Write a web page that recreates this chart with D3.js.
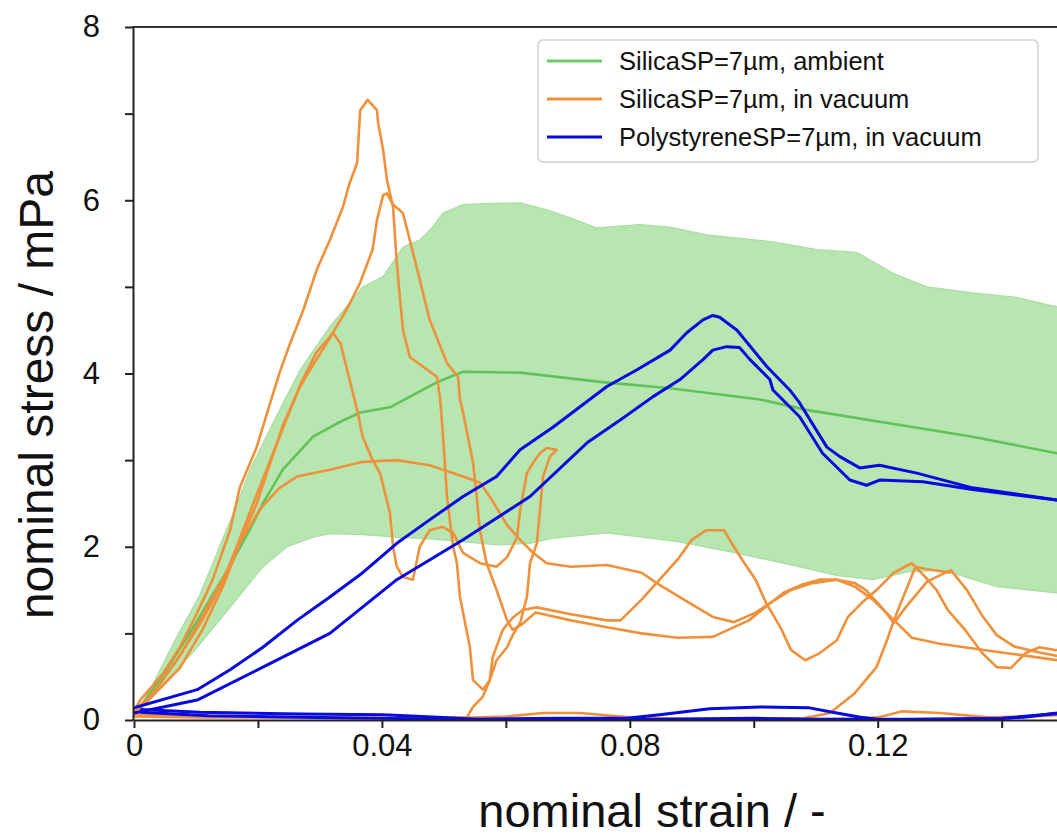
<!DOCTYPE html>
<html><head><meta charset="utf-8">
<script src="https://cdn.jsdelivr.net/npm/d3@7"></script>
<style>
body{margin:0;background:#fff}
svg{display:block}
text{font-family:"Liberation Sans",Arial,Helvetica,sans-serif;fill:#111}
</style></head>
<body><svg id="chart" width="1057" height="840"></svg>
<script>
// ---------- data (strain, stress in mPa) ----------
const strainTicks = [0,0.02,0.04,0.06,0.08,0.10,0.12,0.14,0.16];
const strainLabels = ["0","","0.04","","0.08","","0.12","",""];
const stressTicks = [0,1,2,3,4,5,6,7,8];
const stressLabels = ["0","","2","","4","","6","","8"];
const legendNames = ["SilicaSP=7µm, ambient","SilicaSP=7µm, in vacuum","PolystyreneSP=7µm, in vacuum"];

const greenUpper = [[0,0.05],[0.0026,0.35],[0.0066,0.92],[0.0106,1.44],[0.0171,2.58],[0.0187,2.89],[0.0235,3.58],[0.0268,4.04],[0.0316,4.54],[0.0369,5.0],[0.0402,5.12],[0.0434,5.46],[0.0461,5.54],[0.0482,5.69],[0.0498,5.85],[0.0531,5.95],[0.0569,5.96],[0.0623,5.97],[0.0666,5.89],[0.0703,5.8],[0.0747,5.68],[0.0816,5.72],[0.0865,5.69],[0.0924,5.6],[0.1031,5.52],[0.1102,5.43],[0.1166,5.4],[0.1224,5.16],[0.1279,5.0],[0.1353,4.93],[0.1424,4.88],[0.1489,4.77],[0.158,4.68],[0.168,4.58]];
const greenLower = [[0,0.05],[0.0026,0.23],[0.0102,0.84],[0.0155,1.3],[0.0208,1.77],[0.0247,2.0],[0.0289,2.11],[0.0316,2.15],[0.0369,2.14],[0.0424,2.11],[0.0477,2.09],[0.0531,2.06],[0.0585,2.02],[0.0639,2.04],[0.0676,2.1],[0.0763,2.16],[0.0819,2.11],[0.0877,2.06],[0.0963,1.94],[0.1048,1.81],[0.1134,1.67],[0.1192,1.62],[0.1248,1.71],[0.1306,1.73],[0.1392,1.54],[0.1484,1.47],[0.158,1.42],[0.168,1.38]];
const greenMean = [[0,0.05],[0.005,0.55],[0.01,1.12],[0.015,1.72],[0.0187,2.2],[0.0208,2.5],[0.024,2.89],[0.0289,3.27],[0.0332,3.44],[0.0365,3.55],[0.0413,3.61],[0.045,3.75],[0.0489,3.9],[0.0531,4.02],[0.0623,4.01],[0.0756,3.9],[0.0865,3.83],[0.101,3.7],[0.1085,3.58],[0.1353,3.27],[0.1489,3.08],[0.168,2.85]];

const orangeA = [[0,0.1],[0.001,0.23],[0.0047,0.54],[0.0074,0.84],[0.0102,1.24],[0.0127,1.62],[0.0155,2.19],[0.0171,2.69],[0.0198,3.15],[0.0215,3.55],[0.0235,4.01],[0.0252,4.35],[0.0273,4.73],[0.0295,5.2],[0.0316,5.54],[0.0337,5.92],[0.0348,6.2],[0.036,6.43],[0.0363,6.8],[0.0365,7.04],[0.0377,7.16],[0.0392,7.04],[0.0394,6.89],[0.0402,6.58],[0.0408,6.24],[0.0418,5.92],[0.0424,5.28],[0.0429,4.88],[0.0434,4.5],[0.0445,4.19],[0.0489,3.96],[0.0494,3.7],[0.0498,3.35],[0.0505,2.58],[0.0515,2.0],[0.0521,1.81],[0.0526,1.42],[0.0542,0.84],[0.0547,0.46],[0.0563,0.35],[0.0574,0.46],[0.0579,0.73],[0.0595,1.04],[0.0611,1.18],[0.0627,1.27],[0.065,1.3],[0.0705,1.22],[0.0763,1.15],[0.0785,1.15],[0.0819,1.39],[0.0848,1.62],[0.0877,1.85],[0.09,2.08],[0.0923,2.19],[0.0952,2.19],[0.0968,2.0],[0.0985,1.81],[0.1003,1.62],[0.102,1.35],[0.1043,1.07],[0.106,0.81],[0.1083,0.69],[0.1106,0.77],[0.1134,0.92],[0.1152,1.19],[0.1174,1.35],[0.1198,1.5],[0.1226,1.7],[0.1255,1.81],[0.1277,1.65],[0.1295,1.5],[0.1313,1.27],[0.1341,1.04],[0.1369,0.77],[0.1392,0.61],[0.1415,0.6],[0.1438,0.77],[0.1461,0.84],[0.1484,0.81],[0.158,0.78],[0.168,0.7]];
const orangeB = [[0,0.08],[0.0026,0.25],[0.0074,0.6],[0.0111,1.05],[0.0144,1.55],[0.0171,2.05],[0.0198,2.5],[0.0219,2.95],[0.024,3.4],[0.0268,3.85],[0.0289,4.1],[0.0311,4.35],[0.0344,4.75],[0.0365,5.05],[0.0385,5.43],[0.0392,5.77],[0.0402,6.06],[0.0408,6.08],[0.0418,5.95],[0.0434,5.85],[0.0456,5.23],[0.0477,4.62],[0.0505,4.12],[0.0523,3.96],[0.0526,3.7],[0.0531,3.55],[0.0547,2.97],[0.0553,2.58],[0.0558,2.19],[0.0569,1.81],[0.0585,1.5],[0.0602,1.15],[0.0611,1.04],[0.0625,1.1],[0.0648,1.24],[0.0705,1.15],[0.0763,1.07],[0.0819,1.0],[0.0877,0.95],[0.0934,0.96],[0.0992,1.15],[0.1048,1.47],[0.1077,1.56],[0.1106,1.62],[0.1134,1.62],[0.1163,1.54],[0.1192,1.39],[0.1221,1.19],[0.1255,0.95],[0.13,0.88],[0.138,0.8],[0.149,0.69],[0.168,0.6]];
const orangeC = [[0,0.1],[0.003,0.3],[0.007,0.7],[0.011,1.15],[0.0144,1.6],[0.0171,2.1],[0.0198,2.6],[0.022,3.0],[0.0245,3.45],[0.027,3.9],[0.0295,4.25],[0.0316,4.42],[0.0321,4.47],[0.0333,4.35],[0.0344,4.04],[0.036,3.58],[0.0369,3.27],[0.0385,3.0],[0.0397,2.85],[0.0413,2.39],[0.0418,2.0],[0.0424,1.77],[0.0434,1.65],[0.045,1.62],[0.0461,2.0],[0.0477,2.19],[0.0498,2.23],[0.0515,2.16],[0.0531,1.93],[0.0558,1.81],[0.0585,1.77],[0.0602,1.88],[0.0618,2.11],[0.0623,2.42],[0.0634,2.85],[0.0644,2.97],[0.0655,3.08],[0.0666,3.14],[0.0682,3.12],[0.0671,3.04],[0.066,2.81],[0.0655,2.42],[0.065,2.04],[0.0639,1.81],[0.0634,1.42],[0.0623,1.12],[0.0611,0.98],[0.0602,0.84],[0.0585,0.69],[0.0574,0.46],[0.0563,0.27],[0.0547,0.15],[0.0537,0.03],[0.045,0.02],[0.03,0.03],[0.015,0.04],[0,0.06]];
const orangeD = [[0,0.06],[0.0035,0.35],[0.0075,0.75],[0.011,1.2],[0.0145,1.65],[0.0175,2.1],[0.0205,2.45],[0.0235,2.68],[0.0263,2.81],[0.0316,2.89],[0.0369,2.98],[0.0424,3.0],[0.0477,2.94],[0.0531,2.81],[0.0558,2.74],[0.0574,2.58],[0.0602,2.25],[0.0623,2.08],[0.0644,1.93],[0.0666,1.81],[0.0705,1.77],[0.0763,1.79],[0.0819,1.7],[0.0848,1.56],[0.0894,1.36],[0.0934,1.19],[0.0968,1.13],[0.1003,1.24],[0.1026,1.35],[0.106,1.5],[0.1095,1.58],[0.1134,1.62],[0.1163,1.58],[0.1181,1.5],[0.121,1.27],[0.1226,1.12],[0.1245,1.3],[0.128,1.6],[0.1318,1.73],[0.1344,1.5],[0.1369,1.2],[0.1392,0.98],[0.142,0.85],[0.1461,0.78],[0.149,0.74],[0.168,0.65]];
const orangeE = [[0.1,0.01],[0.108,0.02],[0.1123,0.08],[0.1163,0.31],[0.1198,0.61],[0.1215,0.92],[0.1226,1.15],[0.1248,1.54],[0.1261,1.77],[0.128,1.74],[0.1318,1.7]];
const orangeF = [[0,0.04],[0.01,0.03],[0.02,0.03],[0.035,0.02],[0.05,0.02],[0.06,0.04],[0.066,0.08],[0.072,0.08],[0.08,0.03],[0.09,0.01],[0.1,0.01],[0.115,0.01],[0.12,0.03],[0.124,0.1],[0.13,0.08],[0.138,0.03],[0.145,0.04],[0.15,0.06],[0.168,0.1]];

const blueA = [[0,0.14],[0.0102,0.35],[0.0155,0.58],[0.0208,0.84],[0.0263,1.15],[0.0316,1.42],[0.0369,1.7],[0.0424,2.04],[0.0477,2.31],[0.0531,2.58],[0.0585,2.81],[0.0623,3.12],[0.0676,3.38],[0.0763,3.85],[0.0811,4.04],[0.0865,4.27],[0.0892,4.47],[0.0918,4.62],[0.0934,4.67],[0.0945,4.65],[0.0973,4.5],[0.1021,4.08],[0.1058,3.81],[0.1074,3.66],[0.1118,3.15],[0.1139,3.04],[0.1171,2.91],[0.1203,2.94],[0.1263,2.85],[0.1353,2.68],[0.1489,2.54],[0.168,2.35]];
const blueB = [[0,0.08],[0.0102,0.23],[0.0208,0.61],[0.0316,1.0],[0.0424,1.62],[0.0531,2.08],[0.0639,2.58],[0.0731,3.2],[0.0784,3.46],[0.0837,3.73],[0.0881,3.93],[0.0918,4.16],[0.0934,4.27],[0.0956,4.31],[0.0977,4.3],[0.0994,4.16],[0.1026,3.93],[0.1031,3.81],[0.1074,3.5],[0.1111,3.08],[0.1155,2.77],[0.1182,2.71],[0.1203,2.77],[0.1273,2.75],[0.1353,2.66],[0.1489,2.54],[0.168,2.35]];
const blueC = [[0.001,0.12],[0.0106,0.09],[0.0268,0.07],[0.0402,0.06],[0.0482,0.035],[0.0553,0.01],[0.0687,0.02],[0.0795,0.02],[0.0848,0.06],[0.0929,0.13],[0.101,0.15],[0.109,0.14],[0.1127,0.09],[0.117,0.035],[0.1198,0.01],[0.1365,0.0],[0.144,0.035],[0.1489,0.08],[0.155,0.15],[0.162,0.3]];
const blueD = [[0.001,0.09],[0.012,0.05],[0.03,0.03],[0.05,0.01],[0.07,0.0],[0.085,0.01],[0.1,0.02],[0.11,0.01],[0.125,0.01],[0.14,0.02],[0.15,0.08],[0.158,0.2]];

// ---------- drawing ----------
const GREEN_FILL = "#b7e6b0", GREEN = "#62c25a", ORANGE = "#ef913b", BLUE = "#0808e0";
const svg = d3.select("#chart");
const x = d3.scaleLinear().domain([0, 0.167]).range([134, 1169]);
const y = d3.scaleLinear().domain([0, 8]).range([720, 27]);

svg.append("defs").append("clipPath").attr("id","plotclip")
  .append("rect").attr("x",134).attr("y",27).attr("width",1035).attr("height",693);

const plot = svg.append("g").attr("clip-path","url(#plotclip)");
const line = d3.line().x(d => x(d[0])).y(d => y(d[1]));

// band
const bandPts = greenUpper.concat(greenLower.slice().reverse());
plot.append("path").attr("d", line(bandPts) + "Z")
  .attr("fill", GREEN_FILL).attr("stroke", "#a9dca2").attr("stroke-width", 1.2);
plot.append("path").attr("d", line(greenMean)).attr("fill","none")
  .attr("stroke", GREEN).attr("stroke-width", 2.6).attr("stroke-linejoin","round");

[orangeF, orangeE, orangeD, orangeC, orangeB, orangeA].forEach(s => {
  plot.append("path").attr("d", line(s)).attr("fill","none")
    .attr("stroke", ORANGE).attr("stroke-width", 2.6).attr("stroke-linejoin","round");
});
[blueD, blueC, blueB, blueA].forEach(s => {
  plot.append("path").attr("d", line(s)).attr("fill","none")
    .attr("stroke", BLUE).attr("stroke-width", 3).attr("stroke-linejoin","round");
});

// axes
const xAxis = d3.axisBottom(x).tickValues(strainTicks)
  .tickFormat((d,i) => strainLabels[i]).tickSize(8).tickSizeOuter(0).tickPadding(6);
const gx = svg.append("g").attr("transform","translate(0,720)").call(xAxis);
gx.select(".domain").attr("stroke","#222").attr("stroke-width",2);
gx.selectAll(".tick line").attr("stroke","#222").attr("stroke-width",2);
gx.selectAll(".tick text").attr("font-size",31).attr("fill","#111")
  .attr("font-family","Liberation Sans, Arial, sans-serif");

const yAxis = d3.axisLeft(y).tickValues(stressTicks)
  .tickFormat((d,i) => stressLabels[i]).tickSize(8).tickSizeOuter(0).tickPadding(25);
const gy = svg.append("g").attr("transform","translate(133,0)").call(yAxis);
gy.select(".domain").attr("stroke","#222").attr("stroke-width",2);
gy.selectAll(".tick line").attr("stroke","#222").attr("stroke-width",2);
gy.selectAll(".tick text").attr("font-size",31).attr("fill","#111")
  .attr("font-family","Liberation Sans, Arial, sans-serif");

// top spine
svg.append("line").attr("x1",132).attr("x2",1169).attr("y1",y(8)).attr("y2",y(8))
  .attr("stroke","#333").attr("stroke-width",2);

// axis titles
svg.append("text").attr("x",652).attr("y",827).attr("text-anchor","middle")
  .attr("font-size",47).text("nominal strain / -");
svg.append("text").attr("transform","translate(53,395) rotate(-90)")
  .attr("text-anchor","middle").attr("font-size",48).text("nominal stress / mPa");

// legend
const lg = svg.append("g");
lg.append("rect").attr("x",538).attr("y",40).attr("width",500).attr("height",122)
  .attr("rx",5).attr("fill","#fff").attr("fill-opacity",0.9).attr("stroke","#cfcfcf").attr("stroke-width",1.5);
const legendColors = [GREEN, ORANGE, BLUE];
legendNames.forEach((n,i) => {
  const yy = 61 + i*38;
  lg.append("line").attr("x1",547).attr("x2",602).attr("y1",yy).attr("y2",yy)
    .attr("stroke", i===0 ? "#6ccb66" : legendColors[i]).attr("stroke-width",3);
  lg.append("text").attr("x",619).attr("y",yy+9).attr("font-size",25.5).text(n);
});
</script></body></html>
